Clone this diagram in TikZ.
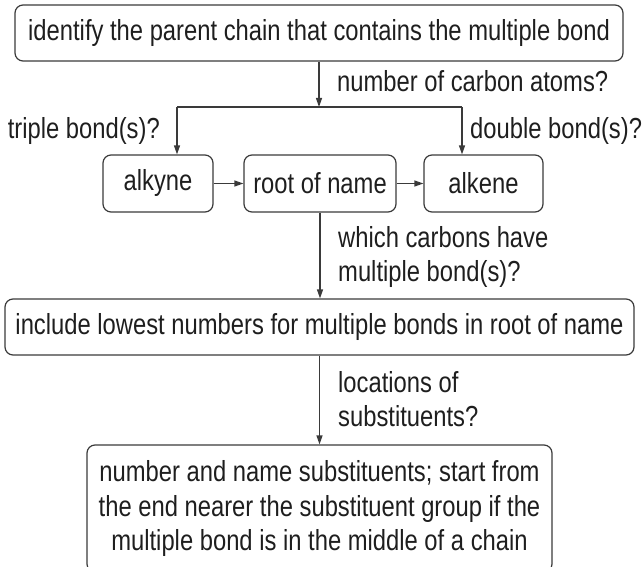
\documentclass[tikz,border=0pt]{standalone}
\usepackage{fontspec}
\setmainfont{Liberation Sans}[FakeStretch=0.82]
\usetikzlibrary{arrows.meta}
\definecolor{linec}{HTML}{3A3A3A}
\definecolor{textc}{HTML}{1E1E1E}
\begin{document}
\begin{tikzpicture}[x=1pt,y=-1pt,
  txt/.style={text=textc, font=\fontsize{29}{34.5}\selectfont},
  box/.style={txt, draw=linec, line width=1.2pt, rounded corners=8pt, inner sep=0pt},
  lbl/.style={txt, inner sep=0pt},
  ln/.style={draw=linec, line width=1.2pt},
  arr/.style={ln, -{Triangle[length=9pt,width=6pt]}}]
\useasboundingbox (0,0) rectangle (642,567);
\clip (0,0) rectangle (642,567);
% boxes
\node[box, minimum width=608, minimum height=56] (top) at (319,33) {identify the parent chain that contains the multiple bond};
\node[box, minimum width=110, minimum height=57] (alkyne) at (158,183.5) {alkyne};
\node[box, minimum width=152, minimum height=57] (root) at (320,183.5) {root of name};
\node[box, minimum width=119, minimum height=57] (alkene) at (483.5,183.5) {alkene};
\node[box, minimum width=629, minimum height=56] (mid) at (319.5,327) {include lowest numbers for multiple bonds in root of name};
\node[box, minimum width=465, minimum height=127, align=center] (bot) at (319.5,508.5) {number and name substituents; start from\\the end nearer the substituent group if the\\multiple bond is in the middle of a chain};
% labels
\node[lbl, anchor=base west] (lnum) at (337,92) {number of carbon atoms?};
\node[lbl, anchor=base east] (ltri) at (160,139) {triple bond(s)?};
\node[lbl, anchor=base west] (ldbl) at (470,139) {double bond(s)?};
\node[lbl, anchor=base west] (lwhich) at (338,247) {\begin{tabular}[t]{@{}l@{}}which carbons have\\multiple bond(s)?\end{tabular}};
\node[lbl, anchor=base west] (lloc) at (338,392) {\begin{tabular}[t]{@{}l@{}}locations of\\substituents?\end{tabular}};
% connectors
\coordinate (j) at (319,107);
\coordinate (jl) at (177,107);
\coordinate (jr) at (462,107);
\draw[arr] (top.south) -- (j);
\draw[ln] (jl) -- (jr);
\draw[arr] (jl) -- (jl |- alkyne.north);
\draw[arr] (jr) -- (jr |- alkene.north);
\draw[arr] (alkyne) -- (root);
\draw[arr] (root) -- (alkene);
\draw[arr] (root.south) -- (root.south |- mid.north);
\draw[arr] (mid.south) -- (bot.north);
\end{tikzpicture}
\end{document}
